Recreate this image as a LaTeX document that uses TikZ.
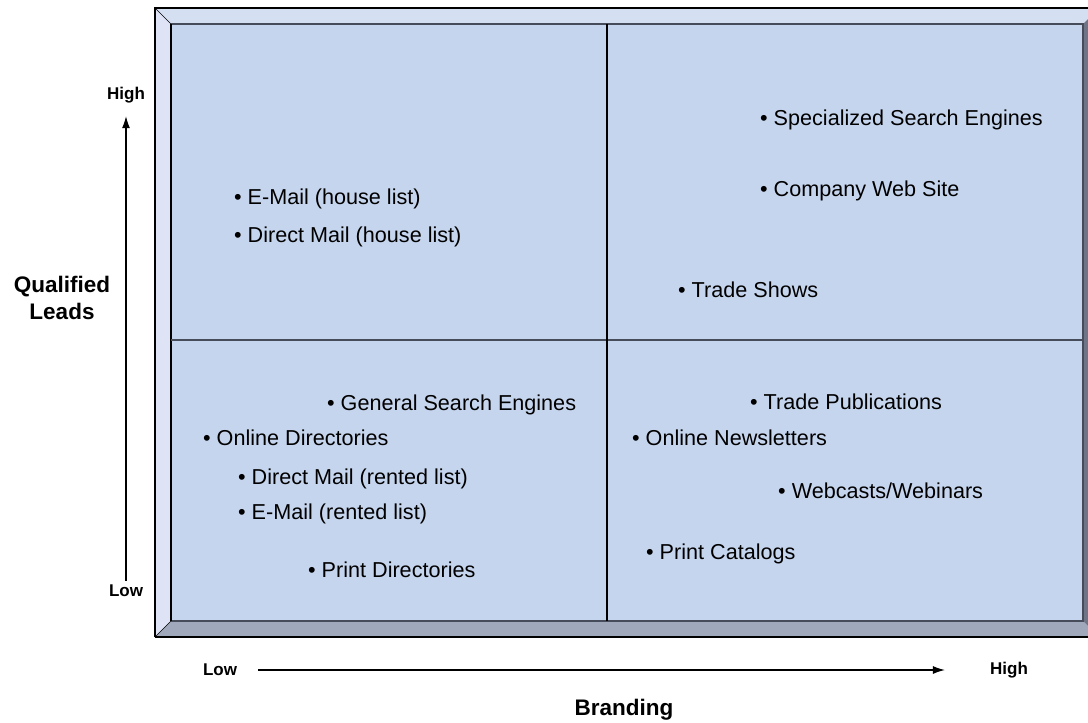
\documentclass[tikz,border=0pt]{standalone}
\usepackage{fontspec}
\setmainfont{Liberation Sans}
\usetikzlibrary{arrows.meta}

\definecolor{face}{RGB}{198,213,238}
\definecolor{bevtop}{RGB}{213,223,242}
\definecolor{bevleft}{RGB}{222,228,245}
\definecolor{bevbot}{RGB}{160,168,188}
\definecolor{bevright}{RGB}{110,117,135}
\definecolor{midgrey}{RGB}{70,76,90}

\tikzset{
  item/.style={anchor=west, inner sep=0pt, font=\fontsize{21.6}{24}\selectfont},
  ends/.style={inner sep=2pt, font=\fontsize{17}{20}\selectfont\bfseries},
  axis/.style={align=center, font=\fontsize{22.5}{27}\selectfont\bfseries},
  axisarrow/.style={-{Latex[length=12pt,width=8pt]}, line width=1.2pt}
}

\begin{document}
\begin{tikzpicture}[x=1pt,y=-1pt]
        \useasboundingbox (0,0) rectangle (1088,723);

        % bevelled frame
        \fill[bevtop] (155,8) -- (1088,8) -- (1088,19) -- (1083,24) -- (171,24) -- cycle;
        \fill[bevleft] (155,8) -- (171,24) -- (171,621) -- (155,637) -- cycle;
        \fill[bevbot] (155,637) -- (171,621) -- (1083,621) -- (1088,626) -- (1088,637) -- cycle;
        \fill[bevright] (1083,24) -- (1088,19) -- (1088,626) -- (1083,621) -- cycle;
        \fill[face] (171,24) rectangle (1083,621);
        \draw[line width=1.2pt] (155,637) -- (155,8) -- (1088,8);
        \draw[line width=1.2pt] (155,637) -- (1088,637);
        \draw (155,8) -- (171,24);
        \draw (155,637) -- (171,621);
        \draw[midgrey, line width=1.5pt] (171,621) -- (1083,621) -- (1083,24) -- (171,24);
        \draw[line width=1.2pt] (171,24) -- (171,621);

        % quadrant lines
        \draw[midgrey, line width=1.8pt] (171,340) -- (1083,340);
        \draw[line width=1.2pt] (607,24) -- (607,621);

        % high / high
        \node[item] (sse) at (760,120) {\textbullet\ Specialized Search Engines};
        \node[item] (cws) at (760,191) {\textbullet\ Company Web Site};
        \node[item] (ts) at (678,290) {\textbullet\ Trade Shows};

        % high leads / low branding
        \node[item] (emh) at (234,199) {\textbullet\ E-Mail (house list)};
        \node[item] (dmh) at (234,237) {\textbullet\ Direct Mail (house list)};

        % low / low
        \node[item] (gse) at (327,405) {\textbullet\ General Search Engines};
        \node[item] (od) at (203,438) {\textbullet\ Online Directories};
        \node[item] (dmr) at (238,479) {\textbullet\ Direct Mail (rented list)};
        \node[item] (emr) at (238,514) {\textbullet\ E-Mail (rented list)};
        \node[item] (pd) at (308,570) {\textbullet\ Print Directories};

        % low leads / high branding
        \node[item] (tp) at (750,402) {\textbullet\ Trade Publications};
        \node[item] (on) at (632,438) {\textbullet\ Online Newsletters};
        \node[item] (ww) at (778,491) {\textbullet\ Webcasts/Webinars};
        \node[item] (pc) at (646,554) {\textbullet\ Print Catalogs};

        % axes
        \node[ends] (lowY) at (126,591) {Low};
        \node[ends] (highY) at (126,95) {High};
        \node[ends] (lowX) at (220,670) {Low};
        \node[ends] (highX) at (1009,670) {High};
        \draw[axisarrow, shorten <=2pt, shorten >=11pt] (lowY.north) -- (highY.south);
        \draw[axisarrow, shorten <=19pt, shorten >=43pt] (lowX.east) -- (highX.west);

        \node[axis] (leads) at (62,298) {Qualified\\Leads};
        \node[axis] (brand) at (624,710) {Branding};
\end{tikzpicture}
\end{document}
